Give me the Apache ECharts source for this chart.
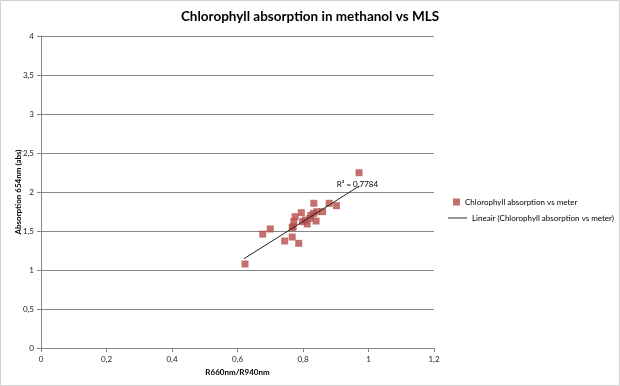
<!DOCTYPE html>
<html><head><meta charset="utf-8">
<script src="https://cdn.jsdelivr.net/npm/echarts@6/dist/echarts.min.js"></script>
<style>html,body{margin:0;padding:0;background:#fff}#c{width:620px;height:386px}</style>
</head><body><div id="c"></div>
<script>
var xValues = [0.623, 0.677, 0.700, 0.744, 0.767, 0.787, 0.767, 0.770, 0.772, 0.776, 0.795, 0.799, 0.813, 0.807, 0.821, 0.833, 0.832, 0.842, 0.840, 0.860, 0.880, 0.902, 0.971, 0.824];
var yValues = [1.077, 1.460, 1.526, 1.372, 1.423, 1.342, 1.543, 1.555, 1.620, 1.684, 1.735, 1.620, 1.590, 1.640, 1.662, 1.855, 1.726, 1.748, 1.628, 1.748, 1.855, 1.825, 2.247, 1.700];
var trendX = [0.62, 0.972];
var trendY = [1.145, 2.077];
var r2Label = 'R² = 0,7784';
var seriesName = 'Chlorophyll absorption vs meter';
var trendName = 'Lineair (Chlorophyll absorption vs meter)';

var pts = xValues.map(function(x, i){ return [x, yValues[i]]; });
var trend = trendX.map(function(x, i){ return [x, trendY[i]]; });
var fmt = function(v){ return String(Math.round(v*10)/10).replace('.', ','); };
var font = 'Lato';
var legendText = { fontFamily: font, fontSize: 8, color: '#000' };
var chart = echarts.init(document.getElementById('c'));
chart.setOption({
  animation: false,
  title: { text: 'Chlorophyll absorption in methanol vs MLS', left: 'center', top: 5,
    textStyle: { fontFamily: font, fontSize: 13.5, fontWeight: 'bold', color: '#000' } },
  grid: { left: 41, right: 186, top: 36, bottom: 38, outerBoundsMode: 'none', containLabel: false },
  legend: [
    { orient: 'vertical', left: 448, top: 193, itemWidth: 7, itemHeight: 7, itemGap: 5,
      textStyle: legendText, data: [ { name: seriesName, icon: 'rect' } ] },
    { orient: 'vertical', left: 443, top: 209, itemWidth: 19, itemHeight: 8,
      textStyle: legendText, data: [ { name: trendName, icon: 'path://M0,4L20,4L20,5L0,5Z' } ] }
  ],
  xAxis: { type: 'value', min: 0, max: 1.2, interval: 0.2,
    name: 'R660nm/R940nm', nameLocation: 'middle', nameGap: 20, nameMoveOverlap: false,
    nameTextStyle: { fontFamily: font, fontSize: 8, fontWeight: 'bold', color: '#000' },
    axisLine: { show: true, lineStyle: { color: '#868686' } },
    axisTick: { show: true, length: 4, lineStyle: { color: '#868686' } },
    axisLabel: { fontFamily: font, fontSize: 8, color: '#222', formatter: fmt, margin: 7 },
    splitLine: { show: false } },
  yAxis: { type: 'value', min: 0, max: 4, interval: 0.5,
    name: 'Absorption 654nm (abs)', nameLocation: 'middle', nameGap: 19, nameMoveOverlap: false,
    nameTextStyle: { fontFamily: font, fontSize: 8, fontWeight: 'bold', color: '#000' },
    axisLine: { show: true, lineStyle: { color: '#868686' } },
    axisTick: { show: true, length: 4, lineStyle: { color: '#868686' } },
    axisLabel: { fontFamily: font, fontSize: 8, color: '#222', formatter: fmt, margin: 7 },
    splitLine: { show: true, lineStyle: { color: '#868686', width: 1 } } },
  series: [
    { name: seriesName, type: 'scatter', symbol: 'rect', symbolSize: 7, data: pts,
      itemStyle: { color: '#b54d4a' }, z: 3 },
    { name: trendName, type: 'line', data: trend, symbol: 'none', showSymbol: false,
      lineStyle: { color: '#222', width: 1 }, itemStyle: { color: '#222' }, z: 4,
      markPoint: { symbol: 'circle', symbolSize: 0, silent: true,
        data: [ { coord: [0.966, 2.095], value: 0 } ],
        label: { show: true, formatter: r2Label, position: 'inside', fontFamily: font, fontSize: 8, color: '#000' } } }
  ],
  graphic: [ { type: 'rect', shape: { x: 0.5, y: 0.5, width: 619, height: 385 }, style: { fill: 'none', stroke: '#d0d0d0', lineWidth: 1 }, silent: true } ]
});
</script></body></html>
